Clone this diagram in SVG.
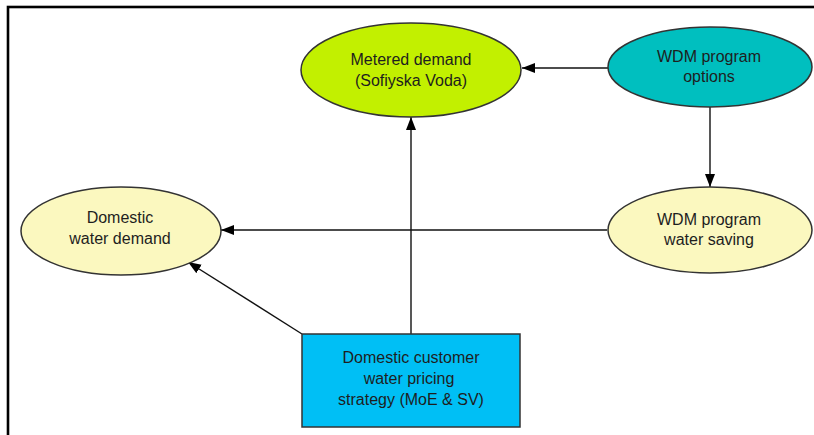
<svg xmlns="http://www.w3.org/2000/svg" width="814" height="435" viewBox="0 0 814 435">
<style>
.node{stroke:#333;stroke-width:1.5}
.lbl{font-family:"Liberation Sans",Arial,sans-serif;font-size:16px;fill:#1e1e1e;text-anchor:middle}
.conn{stroke:#111;stroke-width:1.4;fill:none;marker-end:url(#arr)}
</style>
<defs>
<marker id="arr" markerUnits="userSpaceOnUse" markerWidth="14" markerHeight="11" refX="13" refY="5" orient="auto">
<path d="M0,0 L13,5 L0,10 z" fill="#000"/>
</marker>
</defs>
<rect x="0" y="0" width="814" height="435" fill="#fff"/>
<rect x="8" y="7" width="830" height="450" fill="none" stroke="#000" stroke-width="2.6"/>
<g id="connectors">
<line class="conn" x1="608" y1="68" x2="522" y2="68"/>
<line class="conn" x1="710" y1="107" x2="710" y2="187"/>
<line class="conn" x1="607" y1="230" x2="221" y2="230"/>
<line class="conn" x1="411" y1="334" x2="411" y2="117"/>
<line class="conn" x1="302" y1="334" x2="188" y2="262"/>
</g>
<g id="metered">
<ellipse class="node" cx="411" cy="70" rx="110" ry="47" fill="#C2F000"/>
<text class="lbl" x="411" y="65">Metered demand</text>
<text class="lbl" x="411" y="86">(Sofiyska Voda)</text>
</g>
<g id="wdm-options">
<ellipse class="node" cx="710" cy="67" rx="102" ry="40" fill="#00BFBF"/>
<text class="lbl" x="709" y="62">WDM program</text>
<text class="lbl" x="709" y="82">options</text>
</g>
<g id="wdm-saving">
<ellipse class="node" cx="710" cy="230" rx="102" ry="43" fill="#FBF8BF"/>
<text class="lbl" x="709" y="225">WDM program</text>
<text class="lbl" x="709" y="245">water saving</text>
</g>
<g id="domestic-demand">
<ellipse class="node" cx="121" cy="231" rx="100" ry="44" fill="#FBF8BF"/>
<text class="lbl" x="120" y="223">Domestic</text>
<text class="lbl" x="120" y="244">water demand</text>
</g>
<g id="pricing">
<rect class="node" x="302" y="334" width="218" height="93" fill="#00BFF5"/>
<text class="lbl" x="411" y="363">Domestic customer</text>
<text class="lbl" x="409" y="384">water pricing</text>
<text class="lbl" x="411" y="405">strategy (MoE &amp; SV)</text>
</g>
</svg>
